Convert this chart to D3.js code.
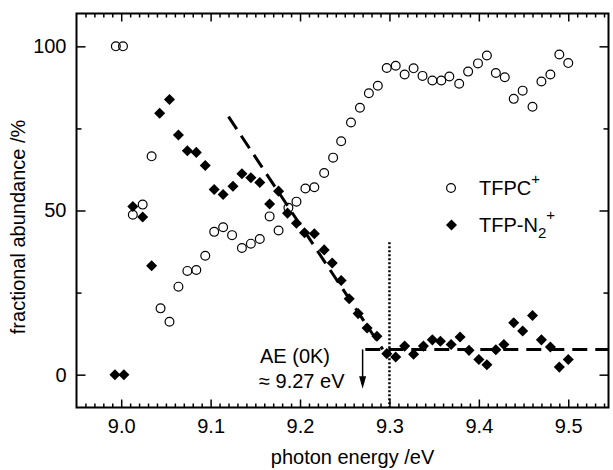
<!DOCTYPE html>
<html>
<head>
<meta charset="utf-8">
<script src="https://cdn.jsdelivr.net/npm/d3@7"></script>
<style>
body{margin:0;background:#fff;}
text{font-family:"Liberation Sans",Arial,Helvetica,sans-serif;fill:#000;}
</style>
</head>
<body>
<svg id="grafico" width="613" height="470"></svg>
<script>
/*dados: TFPC+ (circulos abertos)*/
var energia_tfpc = [8.994,9.002,9.013,9.024,9.034,9.044,9.054,9.064,9.074,9.084,9.094,9.104,9.114,9.124,9.135,9.145,
    9.155,9.166,9.176,9.187,9.196,9.206,9.216,9.227,9.237,9.246,9.257,9.267,9.277,9.287,9.297,9.307,
    9.317,9.327,9.337,9.348,9.358,9.367,9.378,9.388,9.399,9.409,9.419,9.429,9.439,9.449,9.460,9.470,
    9.480,9.490,9.500];
var abund_tfpc = [100,100,48.7,51.8,66.5,20.2,16.1,26.8,31.6,31.9,36.2,43.5,44.9,42.5,38.6,39.9,
    41.3,48.2,43.9,50.8,52.7,56.7,57.1,61.4,66.1,71.1,76.8,81.3,85.7,88,93.4,94.1,
    91.4,93.3,91,89.6,89.6,90.8,88.6,92.3,94.8,97.2,91.9,90.6,84,86.5,81.6,89.3,
    91.4,97.5,94.9];

/*dados TFP-N2+ (losangos cheios)*/
var energia_n2 = [8.993,9.003,9.013,9.024,9.034,9.043,9.054,9.064,9.074,9.084,9.094,9.104,9.114,9.125,9.135,9.145,
    9.155,9.166,9.176,9.186,9.196,9.205,9.216,9.227,9.236,9.246,9.255,9.265,9.275,9.286,9.297,9.307,
    9.317,9.327,9.338,9.348,9.357,9.369,9.379,9.389,9.400,9.409,9.419,9.428,9.439,9.449,9.460,9.470,
    9.480,9.490,9.500];
var abund_n2 = [0,0,51.2,48,33.2,79.6,83.8,73,68.2,67.7,63.7,56.4,54.9,57.4,61.2,60,
    58.5,52,55.9,49.2,46.1,43.2,42.9,38,34,28.7,23.1,18.6,14.2,11.7,6.4,5.4,
    8.7,6.2,8.7,10.6,10.2,9.2,11.5,7.4,4.6,3,7.6,9.2,15.8,13.3,18,10.6,
    8.4,2.3,4.6];

/*ajustes lineares (tracejados) e limiar*/
var ajuste_incl_e = [9.12,9.2925];
var ajuste_incl_v = [78.6,7.7];
var ajuste_base_e = [9.273,9.545];
var ajuste_base_v = [7.7,7.7];
var energia_ae = 9.27;
var energia_pontilhada = 9.3;

var ticks_x = [9.0,9.1,9.2,9.3,9.4,9.5];
var ticks_y = [0,50,100];
var ticks_y_menor = [25,75];
var ticks_x_menor = d3.range(896,955).filter(function(v){return v % 10 != 0;}).map(function(v){return v/100;});

var esq = 76.5, dir = 608.5, topo = 13.5, base = 407.5;

var svg = d3.select("#grafico");
var x = d3.scaleLinear().domain([8.95,9.545]).range([esq,dir]);
var y = d3.scaleLinear().domain([-10,110]).range([base,topo]);

/*eixos: ticks para dentro nos quatro lados*/
function eixo(gen, tr, valores, tam, comTexto){
    var g = svg.append("g").attr("transform", tr)
        .call(gen.tickValues(valores).tickSize(tam).tickPadding(10)
            .tickFormat(comTexto ? function(d){return d;} : ""));
    g.select(".domain").remove();
    g.selectAll(".tick line").attr("stroke","#000").attr("stroke-width",1.5);
    g.selectAll("text").attr("font-size","20px").style("font-family",'"Liberation Sans",Arial,sans-serif');
    return g;
}
var fx = d3.format(".1f");
eixo(d3.axisBottom(x), "translate(0,"+base+")", ticks_x, -8, true).selectAll("text").text(function(d){return fx(d);}).attr("dy","0.78em");
eixo(d3.axisBottom(x), "translate(0,"+base+")", ticks_x_menor, -4, false);
eixo(d3.axisTop(x), "translate(0,"+topo+")", ticks_x, -8, false);
eixo(d3.axisTop(x), "translate(0,"+topo+")", ticks_x_menor, -4, false);
eixo(d3.axisLeft(y), "translate("+esq+",0)", ticks_y, -9, true);
eixo(d3.axisLeft(y), "translate("+esq+",0)", ticks_y_menor, -5, false);
eixo(d3.axisRight(y), "translate("+dir+",0)", ticks_y, -9, false);
eixo(d3.axisRight(y), "translate("+dir+",0)", ticks_y_menor, -5, false);

svg.append("rect").attr("x",esq).attr("y",topo).attr("width",dir-esq).attr("height",base-topo)
    .attr("fill","none").attr("stroke","#000").attr("stroke-width",2);

/*titulos dos eixos*/
svg.append("text").attr("x",(esq+dir)/2+10).attr("y",464).attr("text-anchor","middle")
    .attr("font-size","20px").text("photon energy /eV");
svg.append("text").attr("transform","translate(25,"+y(45)+") rotate(-90)").attr("text-anchor","middle")
    .attr("font-size","20px").text("fractional abundance /%");

/*linha pontilhada vertical em 9.3 eV*/
svg.append("line").attr("x1",x(energia_pontilhada)).attr("x2",x(energia_pontilhada))
    .attr("y1",y(40.3)).attr("y2",base)
    .attr("stroke","#000").attr("stroke-width",2.5).attr("stroke-dasharray","2,2");

/*ajustes tracejados*/
var linha = d3.line().x(function(d){return x(d[0]);}).y(function(d){return y(d[1]);});
[[ajuste_incl_e, ajuste_incl_v],[ajuste_base_e, ajuste_base_v]].forEach(function(a){
    svg.append("path").datum(d3.zip(a[0], a[1])).attr("d",linha)
        .attr("fill","none").attr("stroke","#000").attr("stroke-width",3).attr("stroke-dasharray","15,8");
});

/*losangos*/
var losango = d3.symbol().type(d3.symbolDiamond2).size(78);
svg.append("g").selectAll("path").data(d3.zip(energia_n2, abund_n2)).enter().append("path")
    .attr("d",losango)
    .attr("transform",function(d){return "translate("+x(d[0])+","+y(d[1])+")";})
    .attr("fill","#000");

/*circulos*/
svg.append("g").selectAll("circle").data(d3.zip(energia_tfpc, abund_tfpc)).enter().append("circle")
    .attr("cx",function(d){return x(d[0]);})
    .attr("cy",function(d){return y(d[1]);})
    .attr("r",4.4).attr("fill","none").attr("stroke","#000").attr("stroke-width",1.2);

/*seta do AE*/
var xa = x(energia_ae);
svg.append("line").attr("x1",xa).attr("x2",xa).attr("y1",y(7.7)).attr("y2",y(-1))
    .attr("stroke","#000").attr("stroke-width",1.5);
svg.append("path").attr("d","M"+(xa-3.5)+","+y(-0.5)+"L"+(xa+3.5)+","+y(-0.5)+"L"+xa+","+y(-4.3)+"Z")
    .attr("fill","#000");
svg.append("text").attr("x",260).attr("y",363).attr("font-size","20px").text("AE (0K)");
svg.append("text").attr("x",259).attr("y",388).attr("font-size","20px").text("\u2248 9.27 eV");

/*legenda*/
svg.append("circle").attr("cx",451).attr("cy",188).attr("r",4.4)
    .attr("fill","none").attr("stroke","#000").attr("stroke-width",1.2);
var t1 = svg.append("text").attr("x",479).attr("y",194.5).attr("font-size","20px");
t1.append("tspan").text("TFPC");
t1.append("tspan").attr("dy",-11).attr("font-size","15px").text("+");
svg.append("path").attr("d",losango).attr("transform","translate(451.5,225)").attr("fill","#000");
var t2 = svg.append("text").attr("x",479).attr("y",231.5).attr("font-size","20px");
t2.append("tspan").text("TFP-N");
t2.append("tspan").attr("dy",6).attr("font-size","15px").text("2");
t2.append("tspan").attr("dy",-18).attr("font-size","15px").text("+");
</script>
</body>
</html>
